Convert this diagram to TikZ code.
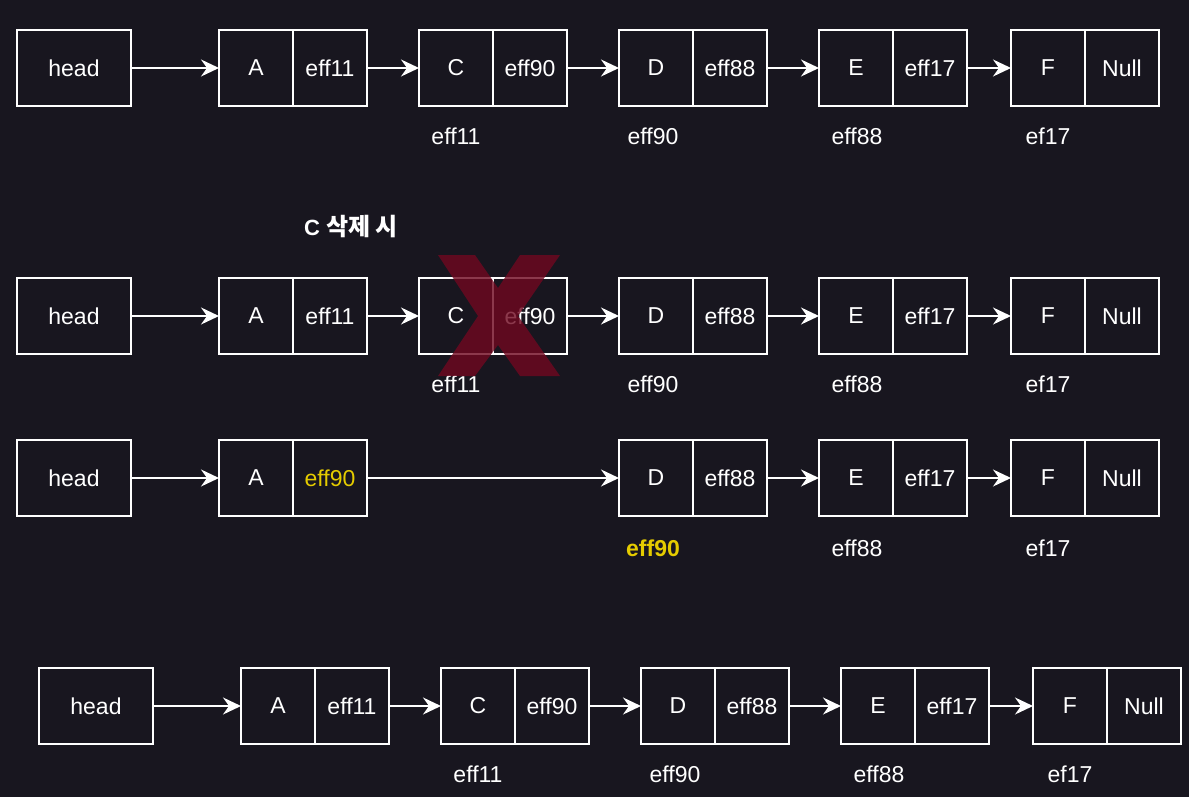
\documentclass[tikz,border=0pt]{standalone}
\usepackage{fontspec}
\setmainfont{Liberation Sans}
\newfontfamily\krfont{Noto Sans CJK KR}
\usetikzlibrary{arrows.meta}
\definecolor{bgdark}{RGB}{24,22,31}
\definecolor{ptryellow}{RGB}{229,204,0}
\definecolor{crossred}{RGB}{112,8,32}

\begin{document}
\begin{tikzpicture}[x=1pt,y=-1pt,
  cell/.style={draw=white,line width=1.6pt,minimum width=74pt,minimum height=76pt,
    inner sep=0pt,outer sep=0pt,text=white,font=\fontsize{23}{26}\selectfont},
  headbox/.style={cell,minimum width=114pt},
  addr/.style={text=white,font=\fontsize{23}{26}\selectfont},
  link/.style={draw=white,line width=1.6pt,-{Stealth[length=18pt,width=17pt,inset=6pt]}}]
   \fill[bgdark] (0,0) rectangle (1189,797);
   \useasboundingbox (0,0) rectangle (1189,797);
   \foreach \r/\y/\dx in {1/68/0,2/316/0,4/706/22}{
     \begin{scope}[xshift=\dx]
     \node[headbox] (h\r) at (74,\y) {head};
     \node[cell] (a\r) at (256,\y) {A};
     \node[cell] (a\r p) at (330,\y) {eff11};
     \node[cell] (c\r) at (456,\y) {C};
     \node[cell] (c\r p) at (530,\y) {eff90};
     \node[cell] (d\r) at (656,\y) {D};
     \node[cell] (d\r p) at (730,\y) {eff88};
     \node[cell] (e\r) at (856,\y) {E};
     \node[cell] (e\r p) at (930,\y) {eff17};
     \node[cell] (f\r) at (1048,\y) {F};
     \node[cell] (f\r p) at (1122,\y) {Null};
     \node[addr] (lc\r) at (456,\y+68) {eff11};
     \node[addr] (ld\r) at (653,\y+68) {eff90};
     \node[addr] (le\r) at (857,\y+68) {eff88};
     \node[addr] (lf\r) at (1048,\y+68) {ef17};
     \draw[link] (h\r) -- (a\r);
     \draw[link] (a\r p) -- (c\r);
     \draw[link] (c\r p) -- (d\r);
     \draw[link] (d\r p) -- (e\r);
     \draw[link] (e\r p) -- (f\r);
     \end{scope}
   }
   \node[text=white] (title) at (351,227) {\fontsize{22}{26}\bfseries\selectfont C\ \krfont\fontsize{24}{26}\bfseries\selectfont 삭제 시};
   \fill[crossred,opacity=0.8] (438,255) -- (475,255) -- (498,288) -- (520,255) -- (560,255) -- (518,316)
     -- (560,376) -- (520,376) -- (498,345) -- (475,376) -- (438,376) -- (478,316) -- cycle;
   \node[headbox] (h3) at (74,478) {head};
   \node[cell] (a3) at (256,478) {A};
   \node[cell,text=ptryellow] (a3p) at (330,478) {eff90};
   \node[cell] (d3) at (656,478) {D};
   \node[cell] (d3p) at (730,478) {eff88};
   \node[cell] (e3) at (856,478) {E};
   \node[cell] (e3p) at (930,478) {eff17};
   \node[cell] (f3) at (1048,478) {F};
   \node[cell] (f3p) at (1122,478) {Null};
   \node[addr,text=ptryellow,font=\fontsize{23}{26}\bfseries\selectfont] (ld3) at (653,548) {eff90};
   \node[addr] (le3) at (857,548) {eff88};
   \node[addr] (lf3) at (1048,548) {ef17};
   \draw[link] (h3) -- (a3);
   \draw[link] (a3p) -- (d3);
   \draw[link] (d3p) -- (e3);
   \draw[link] (e3p) -- (f3);
\end{tikzpicture}
\end{document}
